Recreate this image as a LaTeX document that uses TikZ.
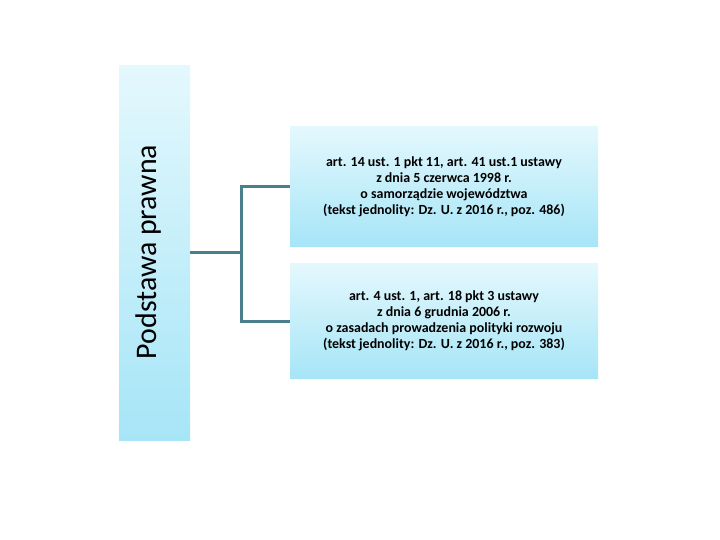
\documentclass[tikz,border=0pt]{standalone}
\usepackage{fontspec}
\setmainfont{Carlito}
\usetikzlibrary{positioning}
\definecolor{boxtop}{HTML}{E4F8FD}
\definecolor{boxbot}{HTML}{A6E5F7}
\definecolor{linecol}{HTML}{4A7F8C}
\tikzset{
  lawbox/.style={rectangle, top color=boxtop, bottom color=boxbot, draw=none,
    minimum width=308bp, minimum height=117bp, align=center,
    font=\fontsize{14}{16}\selectfont\bfseries, inner sep=0pt},
  conn/.style={draw=linecol, line width=3bp}
}
\begin{document}
\begin{tikzpicture}[x=1bp, y=-1bp]
  \useasboundingbox (0, 0) rectangle (720, 540);
  % Lewa kolumna
  \node[rectangle, top color=boxtop, bottom color=boxbot, minimum width=71bp,
    minimum height=374bp, inner sep=0pt] (basis) at (154.5, 253) {};
  \node[rotate=90, font=\fontsize{30}{34}\selectfont] (title) at (149, 252) {Podstawa prawna};

  % Ustawy
  \node[lawbox, minimum height=119bp] (law1) at (444, 186.5)
    {art. 14 ust. 1 pkt 11, art. 41 ust.1 ustawy\\ z dnia 5 czerwca 1998 r.\\ o samorządzie województwa\\ (tekst jednolity: Dz. U. z 2016 r., poz. 486)};
  \node[lawbox, minimum height=114bp] (law2) at (444, 321)
    {art. 4 ust. 1, art. 18 pkt 3 ustawy\\ z dnia 6 grudnia 2006 r.\\ o zasadach prowadzenia polityki rozwoju\\ (tekst jednolity: Dz. U. z 2016 r., poz. 383)};

  % Połączenia
  \coordinate (fork) at (241, 253);
  \draw[conn] (basis.east) -- (fork);
  \draw[conn] (law1.west) -| (fork) |- (law2.west);
\end{tikzpicture}
\end{document}
